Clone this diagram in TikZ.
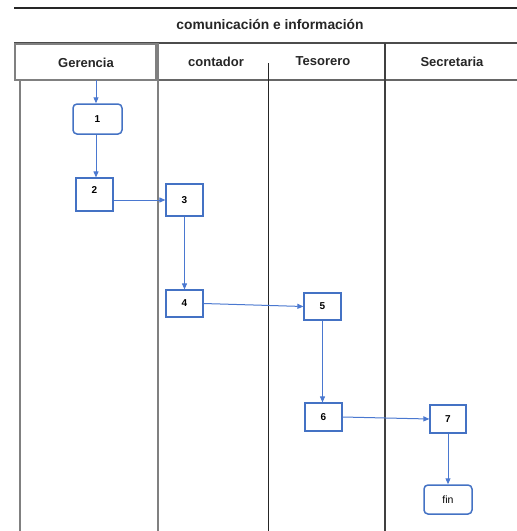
\documentclass[tikz,border=0pt]{standalone}
\usepackage{fontspec}
\setmainfont{Liberation Sans}
\usetikzlibrary{arrows.meta,calc}
\definecolor{boxblue}{HTML}{4472C4}
\definecolor{arrblue}{HTML}{4A78D0}
\definecolor{lanegray}{HTML}{808080}
\begin{document}
\begin{tikzpicture}[x=1pt,y=-1pt,
  stepbox/.style={draw=boxblue,line width=1.2pt,fill=white,inner sep=0pt,font=\fontsize{10}{12}\selectfont\bfseries},
  roundbox/.style={stepbox,line width=1.5pt,rounded corners=4pt},
  flow/.style={draw=arrblue,line width=1pt,-{Triangle[length=6pt,width=5pt]}},
  head/.style={font=\fontsize{13}{15}\selectfont\bfseries,text=black!85},
  lane/.style={draw=lanegray,line width=1.8pt},
  frameline/.style={draw=black!85,line width=1pt}]
\path[use as bounding box,fill=white] (0,0) rectangle (517,531);
% frame lines
\draw[frameline,line width=1.3pt] (14,8) -- (517,8);
\draw[draw=black!70,line width=1.6pt] (14,43) -- (517,43);
\draw[lane] (15,44) rectangle (156,80);
\draw[draw=black!60,line width=2pt] (157,80) -- (517,80);
\draw[lane,line width=1.5pt] (20,80) -- (20,531);
\draw[lane] (158,43) -- (158,531);
\draw[frameline] (268,63) -- (268,531);
\draw[draw=black!75,line width=1.3pt] (385,43) -- (385,531);
% texts
\node[head,font=\fontsize{13.8}{15}\selectfont\bfseries] (title) at (270,25) {comunicación e información};
\node[head] (hg) at (86,63) {Gerencia};
\node[head] (hc) at (216,62) {contador};
\node[head] (ht) at (323,61) {Tesorero};
\node[head] (hs) at (452,62) {Secretaria};
% boxes
\node[roundbox,minimum width=49pt,minimum height=30pt] (n1) at (97.5,119) {1};
\node[stepbox,minimum width=37pt,minimum height=33pt] (n2) at (94.5,194.5) {2\rule[-8pt]{0pt}{0pt}};
\node[stepbox,minimum width=37pt,minimum height=32pt] (n3) at (184.5,200) {3};
\node[stepbox,minimum width=37pt,minimum height=27pt] (n4) at (184.5,303.5) {4};
\node[stepbox,minimum width=37pt,minimum height=27pt] (n5) at (322.5,306.5) {5};
\node[stepbox,minimum width=37pt,minimum height=28pt] (n6) at (323.5,417) {6};
\node[stepbox,minimum width=36pt,minimum height=28pt] (n7) at (448,419) {7};
\node[roundbox,minimum width=48pt,minimum height=29pt,font=\fontsize{10.5}{12}\selectfont] (fin) at (448,499.5) {fin};
% connectors
\coordinate (start) at (96,80);
\draw[flow] (start) -- (start |- n1.north);
\draw[flow] (n1.south -| start) -- (start |- n2.north);
\draw[flow] (n2.east |- n3.west) -- (n3.west);
\draw[flow] (n3.south) -- (n4.north);
\draw[flow] (n4.east) -- (n5.west);
\draw[flow] (n5.south) -- (n5.south |- n6.north);
\draw[flow] (n6.east) -- (n7.west);
\draw[flow] (n7.south) -- (fin.north);
\end{tikzpicture}
\end{document}
